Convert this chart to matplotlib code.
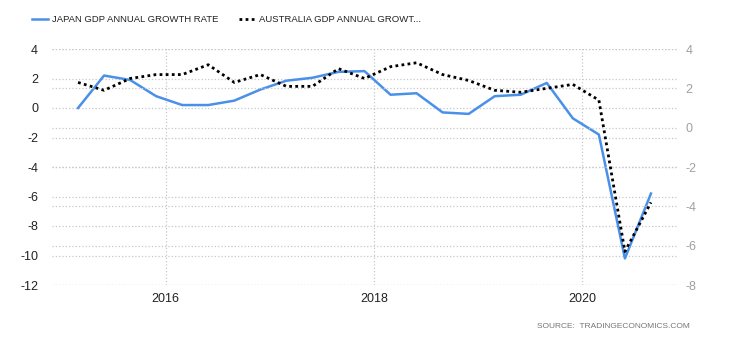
'''Japan vs Australia GDP annual growth rate, quarterly'''
import matplotlib
matplotlib.use('Agg')
import matplotlib.pyplot as plt
import numpy as np

# quarter positions as fractional years, Q1 2015 .. Q3 2020
quarters = 2015.16 + 0.25 * np.arange(23)
japan = [0.0, 2.2, 1.9, 0.8, 0.2, 0.2, 0.5, 1.25, 1.85, 2.05, 2.45, 2.5,
         0.9, 1.0, -0.3, -0.4, 0.8, 0.9, 1.7, -0.7, -1.8, -10.2, -5.8]
australia = [2.3, 1.9, 2.5, 2.7, 2.7, 3.2, 2.3, 2.7, 2.1, 2.1, 3.0, 2.5,
             3.1, 3.3, 2.7, 2.4, 1.9, 1.8, 2.0, 2.2, 1.4, -6.3, -3.8]
year_ticks = [2016, 2018, 2020]
left_ticks = [4, 2, 0, -2, -4, -6, -8, -10, -12]
right_ticks = [4, 2, 0, -2, -4, -6, -8]

BLUE = '#4a90e8'
GRID = '#c8c8c8'

plt.rcParams['font.family'] = ['Liberation Sans', 'DejaVu Sans']
plt.rcParams['axes.unicode_minus'] = False

fig = plt.figure(figsize=(7.3, 3.4), dpi=100)
ax = fig.add_axes([52 / 730, 1 - 285 / 340, 625 / 730, 236 / 340])
ax2 = ax.twinx()

l1, = ax.plot(quarters, japan, color=BLUE, lw=1.8, zorder=3)
l2, = ax2.plot(quarters, australia, color='black', lw=2.0, ls=(0, (1, 1.2)), zorder=3)

ax.set_xlim(2014.91, 2020.91)
ax.set_ylim(-12, 4)
ax2.set_ylim(-8, 4)
ax.set_xticks(year_ticks)
ax.set_xticklabels([str(y) for y in year_ticks])
ax.set_yticks(left_ticks)
ax2.set_yticks(right_ticks)

ax.grid(True, color=GRID, ls=':', lw=0.9)
ax2.grid(True, axis='y', color=GRID, ls=':', lw=0.9)
ax.set_axisbelow(True)

for a in (ax, ax2):
    for s in a.spines.values():
        s.set_visible(False)
ax.tick_params(length=0, labelsize=9, colors='#222222', pad=6)
ax.tick_params(axis='y', pad=10)
ax2.tick_params(length=0, labelsize=9, colors='#a0a0a0', pad=6)

fig.legend([l1, l2], ['JAPAN GDP ANNUAL GROWTH RATE', 'AUSTRALIA GDP ANNUAL GROWT...'],
           loc='upper left', bbox_to_anchor=(24 / 730, 1 - 7 / 340), ncol=2,
           frameon=False, fontsize=6.8, handlelength=1.6, handletextpad=0.5,
           columnspacing=2.2, labelcolor='#222222')

fig.text(690 / 730, 1 - 326 / 340, 'SOURCE:  TRADINGECONOMICS.COM', ha='right',
         va='center', fontsize=6, color='#777777')

fig.savefig('out.png', dpi=100)
